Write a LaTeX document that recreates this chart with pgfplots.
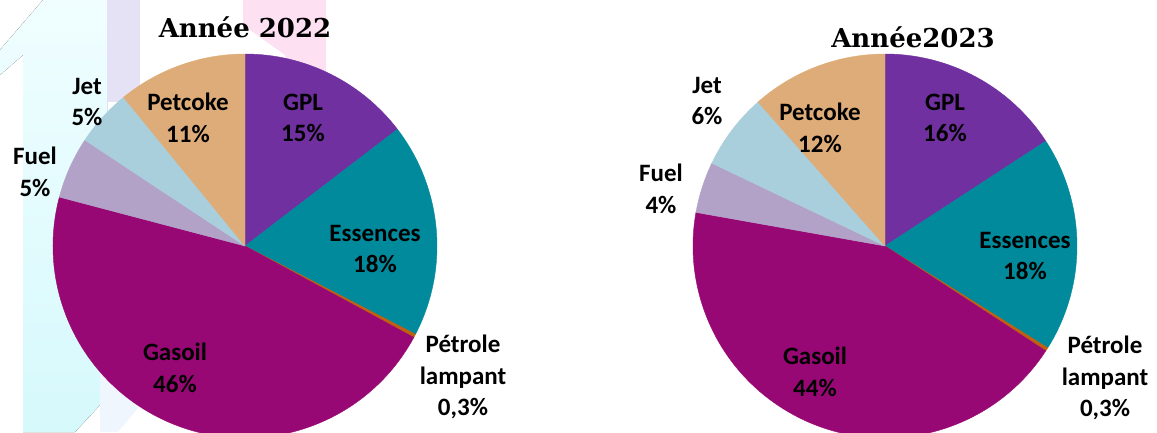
\documentclass[border=0pt]{standalone}
\usepackage{fontspec}
\setmainfont{Carlito}
\newfontfamily\titlefont{DejaVu Serif}
\usepackage{pgfplots}
\usepackage{pgfplotstable}
\pgfplotsset{compat=1.18}
\definecolor{cGPL}{HTML}{7030A0}
\definecolor{cEss}{HTML}{008A9C}
\definecolor{cPet}{HTML}{C0600F}
\definecolor{cGas}{HTML}{970874}
\definecolor{cFuel}{HTML}{B3A2C7}
\definecolor{cJet}{HTML}{A9CEDC}
\definecolor{cCoke}{HTML}{DEAC78}
\definecolor{bgCyanT}{HTML}{F0FEFF}
\definecolor{bgCyanB}{HTML}{D6F9FC}
\definecolor{bgLav}{HTML}{E6E2F6}
\definecolor{bgBlue}{HTML}{F0F6FD}
\definecolor{bgPink}{HTML}{FDE0F1}

% 2022 shares (%), clockwise from 12 o'clock
\pgfplotstableread{
name value color
GPL 14.6 cGPL
Essences 18.0 cEss
Petrole 0.3 cPet
Gasoil 46.2 cGas
Fuel 5.2 cFuel
Jet 4.8 cJet
Petcoke 10.9 cCoke
}\dataA
% 2023 shares (%)
\pgfplotstableread{
name value color
GPL 15.8 cGPL
Essences 18.1 cEss
Petrole 0.3 cPet
Gasoil 43.6 cGas
Fuel 4.3 cFuel
Jet 6.4 cJet
Petcoke 11.5 cCoke
}\dataB

\makeatletter
\newcommand\buildpie[5]{%
  \def#5{}%
  \def\pie@acc{0}%
  \pgfplotstablegetrowsof{#1}%
  \pgfmathtruncatemacro\pie@last{\pgfplotsretval-1}%
  \pgfplotsforeachungrouped \pie@i in {0,...,\pie@last}{%
    \pgfplotstablegetelem{\pie@i}{value}\of{#1}\let\pie@v\pgfplotsretval
    \pgfplotstablegetelem{\pie@i}{color}\of{#1}\let\pie@c\pgfplotsretval
    \pgfmathsetmacro\pie@sa{90-3.6*\pie@acc}%
    \pgfmathsetmacro\pie@acc{\pie@acc+\pie@v}%
    \pgfmathsetmacro\pie@ea{90-3.6*\pie@acc}%
    \edef#5{\unexpanded\expandafter{#5}\noexpand\filldraw[fill=\pie@c,draw=\pie@c,line width=0.4pt,line join=round] (axis cs:#2,#3) -- ++(\pie@sa:#4pt) arc[start angle=\pie@sa, end angle=\pie@ea, radius=#4pt] -- cycle;}%
  }%
}
\makeatother

\buildpie{\dataA}{245}{186}{192}{\pieA}
\buildpie{\dataB}{885}{186}{192}{\pieB}

\tikzset{lab/.style={font=\bfseries\fontsize{25}{31.5}\selectfont, align=center, inner sep=0pt, text=black}}

\begin{document}
\begin{tikzpicture}
\begin{axis}[x=1pt, y=1pt, xmin=0, xmax=1157, ymin=0, ymax=432,
  hide axis, clip=true, anchor=south west, at={(0,0)}]
% faint background decoration
\fill[top color=bgCyanT, bottom color=bgCyanB] (axis cs:0,382) -- (axis cs:43,432) -- (axis cs:107,432) -- (axis cs:107,62) -- (axis cs:100,62) -- (axis cs:100,27) -- (axis cs:75,0) -- (axis cs:23,0) -- (axis cs:23,377) -- (axis cs:0,357) -- cycle;
\fill[bgLav] (axis cs:107,432) -- (axis cs:140,432) -- (axis cs:140,330) -- (axis cs:107,330) -- cycle;
\fill[bgBlue] (axis cs:100,62) -- (axis cs:145,62) -- (axis cs:145,32) -- (axis cs:118,0) -- (axis cs:100,0) -- cycle;
\fill[bgPink] (axis cs:243,407) -- (axis cs:243,432) -- (axis cs:326,432) -- (axis cs:326,300) -- (axis cs:285,300) -- (axis cs:285,377) -- cycle;
\pieA
\pieB
% titles
\node[font=\titlefont\bfseries\fontsize{26}{30}\selectfont, inner sep=0pt] at (axis cs:245,405) {Année 2022};
\node[font=\titlefont\bfseries\fontsize{26}{30}\selectfont, inner sep=0pt] at (axis cs:913,395) {Année2023};
% 2022 labels
\node[lab] at (axis cs:303,314) {GPL\\15\%};
\node[lab] at (axis cs:188,314) {Petcoke\\11\%};
\node[lab] at (axis cs:87,330) {Jet\\5\%};
\node[lab] at (axis cs:35,260) {Fuel\\5\%};
\node[lab] at (axis cs:375,183) {Essences\\18\%};
\node[lab] at (axis cs:175,64) {Gasoil\\46\%};
\node[lab] at (axis cs:463,55) {Pétrole\\lampant\\0,3\%};
% 2023 labels
\node[lab] at (axis cs:945,314) {GPL\\16\%};
\node[lab] at (axis cs:820,304) {Petcoke\\12\%};
\node[lab] at (axis cs:707,331) {Jet\\6\%};
\node[lab] at (axis cs:661,243) {Fuel\\4\%};
\node[lab] at (axis cs:1025,176) {Essences\\18\%};
\node[lab] at (axis cs:815,60) {Gasoil\\44\%};
\node[lab] at (axis cs:1105,54) {Pétrole\\lampant\\0,3\%};
\end{axis}
\pgfresetboundingbox
\path[use as bounding box] (0,0) rectangle (1157pt,432pt);
\end{tikzpicture}
\end{document}
